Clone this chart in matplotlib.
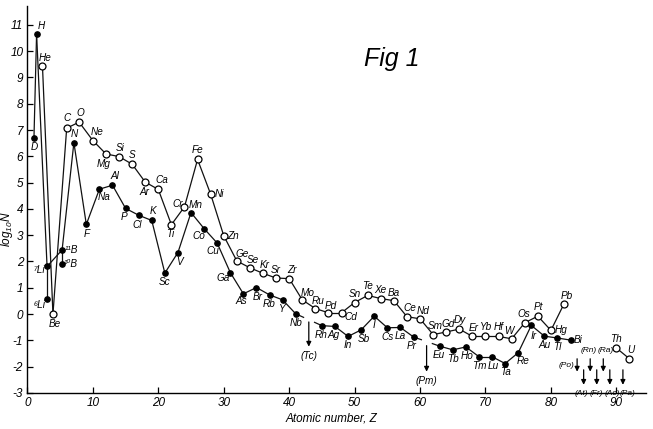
import numpy as np
import matplotlib.pyplot as plt

# Datos (log10 N frente a Z)

# Serie de Z impar (circulos negros), incluye D, 7Li y 11B
impar_simbolos = ['D', 'H', '⁷Li', '¹¹B', 'N', 'F', 'Na', 'Al', 'P', 'Cl', 'K', 'Sc', 'V', 'Mn',
                  'Co', 'Cu', 'Ga', 'As', 'Br', 'Rb', 'Y', 'Nb', 'Rh', 'Ag', 'In', 'Sb', 'I',
                  'Cs', 'La', 'Pr', 'Eu', 'Tb', 'Ho', 'Tm', 'Lu', 'Ta', 'Re', 'Ir', 'Au', 'Tl', 'Bi']
impar_z = [1.0, 1.4, 3, 5.3, 7.1, 9, 11, 13, 15, 17, 19, 21, 23, 25,
           27, 29, 31, 33, 35, 37, 39, 41, 45, 47, 49, 51, 53,
           55, 57, 59, 63, 65, 67, 69, 71, 73, 75, 77, 79, 81, 83]
impar_logn = [6.71, 10.65, 1.81, 2.44, 6.52, 3.41, 4.75, 4.90, 4.02, 3.76, 3.56, 1.56, 2.34, 3.86,
              3.25, 2.70, 1.58, 0.77, 1.01, 0.73, 0.54, 0.01, -0.44, -0.47, -0.85, -0.60, -0.08,
              -0.52, -0.51, -0.87, -1.22, -1.36, -1.25, -1.62, -1.62, -1.88, -1.47, -0.43, -0.84, -0.91, -0.99]

# Serie de Z par (circulos abiertos)
par_simbolos = ['He', 'Be', 'C', 'O', 'Ne', 'Mg', 'Si', 'S', 'Ar', 'Ca', 'Ti', 'Cr', 'Fe', 'Ni',
                'Zn', 'Ge', 'Se', 'Kr', 'Sr', 'Zr', 'Mo', 'Ru', 'Pd', 'Cd', 'Sn', 'Te', 'Xe',
                'Ba', 'Ce', 'Nd', 'Sm', 'Gd', 'Dy', 'Er', 'Yb', 'Hf', 'W', 'Os', 'Pt', 'Hg', 'Pb']
par_z = [2.3, 3.9, 6.0, 7.9, 10, 12, 14, 16, 18, 20, 22, 24, 26, 28,
         30, 32, 34, 36, 38, 40, 42, 44, 46, 48, 50, 52, 54,
         56, 58, 60, 62, 64, 66, 68, 70, 72, 74, 76, 78, 80, 82]
par_logn = [9.43, 0.0, 7.07, 7.30, 6.60, 6.09, 5.99, 5.70, 5.02, 4.74, 3.40, 4.08, 5.88, 4.56,
            2.98, 2.02, 1.76, 1.55, 1.37, 1.35, 0.54, 0.21, 0.05, 0.05, 0.44, 0.71, 0.59,
            0.51, -0.10, -0.18, -0.78, -0.68, -0.57, -0.85, -0.85, -0.85, -0.94, -0.33, -0.08, -0.62, 0.39]

# Isotopos ligeros sueltos
iso_simbolos = ['⁶Li', '¹⁰B']
iso_z = [3, 5.3]
iso_logn = [0.58, 1.91]

# Th y U
act_simbolos = ['Th', 'U']
act_z = [90, 92]
act_logn = [-1.29, -1.70]

# Elementos sin isotopos estables (flechas)
flecha_etiquetas = ['(Tc)', '(Pm)', '(Po)', '(At)', '(Rn)', '(Fr)', '(Ra)', '(Ac)', '(Pa)']
flecha_z = [43, 61, 84, 85, 86, 87, 88, 89, 91]
flecha_arriba = [-0.30, -1.20, -1.70, -2.12, -1.70, -2.12, -1.70, -2.12, -2.12]
flecha_abajo = [-1.24, -2.19, -2.19, -2.69, -2.19, -2.69, -2.19, -2.69, -2.69]
flecha_lado = ['abajo', 'abajo', 'izq', 'abajo', 'arriba', 'abajo', 'arriba', 'abajo', 'abajo']
flecha_dx = [0, 0, -3, -2, -2, 0, 2, 2, 5]

# Desplazamiento de cada etiqueta (pixeles, x derecha, y arriba)
desp = {
    'D': (0, -9), 'H': (5, 8), '⁷Li': (-8, -4), '¹¹B': (9, 0), 'N': (0, 9), 'F': (0, -10),
    'Na': (5, -8), 'Al': (2, 9), 'P': (-2, -9), 'Cl': (-1, -10), 'K': (1, 9), 'Sc': (0, -9),
    'V': (2, -9), 'Mn': (5, 8), 'Co': (-5, -7), 'Cu': (-4, -8), 'Ga': (-7, -5), 'As': (-2, -7),
    'Br': (1, -9), 'Rb': (0, -9), 'Y': (0, -9), 'Nb': (0, -9), 'Rh': (-1, -9), 'Ag': (-1, -9),
    'In': (0, -9), 'Sb': (3, -9), 'I': (0, -9), 'Cs': (0, -9), 'La': (0, -9), 'Pr': (-2, -9),
    'Eu': (-1, -9), 'Tb': (0, -9), 'Ho': (1, -9), 'Tm': (0, -9), 'Lu': (1, -9), 'Ta': (0, -8),
    'Re': (5, -8), 'Ir': (2, -11), 'Au': (0, -9), 'Tl': (0, -9), 'Bi': (8, 0),
    '⁶Li': (-7, -6), '¹⁰B': (9, 0),
    'He': (3, 8), 'Be': (2, -10), 'C': (0, 10), 'O': (1, 9), 'Ne': (4, 9), 'Mg': (-2, -10),
    'Si': (1, 9), 'S': (0, 9), 'Ar': (-1, -10), 'Ca': (4, 9), 'Ti': (-1, -9), 'Cr': (-7, 3),
    'Fe': (0, 9), 'Ni': (9, 0), 'Zn': (9, 0), 'Ge': (5, 7), 'Se': (3, 8), 'Kr': (2, 8),
    'Sr': (0, 8), 'Zr': (3, 9), 'Mo': (5, 7), 'Ru': (3, 8), 'Pd': (2, 7), 'Cd': (9, -4),
    'Sn': (0, 9), 'Te': (0, 9), 'Xe': (0, 9), 'Ba': (0, 8), 'Ce': (3, 9), 'Nd': (3, 8),
    'Sm': (2, 9), 'Gd': (2, 8), 'Dy': (0, 9), 'Er': (1, 8), 'Yb': (1, 9), 'Hf': (0, 9),
    'W': (-3, 8), 'Os': (-1, 9), 'Pt': (1, 9), 'Hg': (10, 0), 'Pb': (3, 8),
    'Th': (0, 9), 'U': (1, 9),
}

plt.rcParams['font.family'] = ['Liberation Sans', 'DejaVu Sans']
plt.rcParams['font.style'] = 'italic'
plt.rcParams['axes.unicode_minus'] = False
plt.rcParams['mathtext.fontset'] = 'custom'
plt.rcParams['mathtext.rm'] = 'Liberation Sans:italic'
plt.rcParams['mathtext.it'] = 'Liberation Sans:italic'

fuente_etq = ['Liberation Sans Narrow', 'Liberation Sans', 'DejaVu Sans']

fig = plt.figure(figsize=(6.53, 4.29), dpi=100)
ax = fig.add_axes([0.042, 0.084, 0.947, 0.901])

lw = 0.9
col = '#111111'


def dibujar_serie(z, v):
    # une puntos consecutivos; si falta un elemento se deja un hueco
    for i in range(len(z) - 1):
        x0, x1, y0, y1 = z[i], z[i + 1], v[i], v[i + 1]
        if x1 - x0 > 3:
            for a, b in [(0, 0.3), (0.72, 1)]:
                ax.plot([x0 + a * (x1 - x0), x0 + b * (x1 - x0)],
                        [y0 + a * (y1 - y0), y0 + b * (y1 - y0)], '-', color=col, lw=lw)
        else:
            ax.plot([x0, x1], [y0, y1], '-', color=col, lw=lw)


dibujar_serie(impar_z, impar_logn)
dibujar_serie(par_z, par_logn)
ax.plot(act_z, act_logn, '-', color=col, lw=lw)
# lineas verticales entre isotopos
for zi, vi in zip(iso_z, iso_logn):
    j = impar_z.index(zi)
    ax.plot([zi, zi], [impar_logn[j], vi], '-', color=col, lw=lw)

ax.plot(impar_z, impar_logn, 'o', ms=3.8, color='black', zorder=4)
ax.plot(iso_z, iso_logn, 'o', ms=3.8, color='black', zorder=4)
ax.plot(par_z, par_logn, 'o', ms=5, mfc='white', mec='black', mew=0.9, zorder=4)
ax.plot(act_z, act_logn, 'o', ms=5, mfc='white', mec='black', mew=0.9, zorder=4)

# etiquetas de elementos
for sims, zs, vs in [(impar_simbolos, impar_z, impar_logn), (par_simbolos, par_z, par_logn),
                     (iso_simbolos, iso_z, iso_logn), (act_simbolos, act_z, act_logn)]:
    for s, x, y in zip(sims, zs, vs):
        dx, dy = desp[s]
        ax.annotate(s, (x, y), xytext=(dx, dy), textcoords='offset pixels',
                    ha='center', va='center', fontsize=7.2, family=fuente_etq, style='italic')

# flechas
for etq, x, y0, y1, lado, ddx in zip(flecha_etiquetas, flecha_z, flecha_arriba, flecha_abajo,
                                     flecha_lado, flecha_dx):
    ax.annotate('', xy=(x, y1), xytext=(x, y0),
                arrowprops=dict(arrowstyle='-|>', color='black', lw=0.9,
                                mutation_scale=7, shrinkA=0, shrinkB=0))
    fs = 7.2 if x < 80 else 6.0
    if lado == 'abajo':
        ax.annotate(etq, (x, y1), xytext=(ddx, -9), textcoords='offset pixels',
                    ha='center', va='center', fontsize=fs, family=fuente_etq, style='italic')
    elif lado == 'arriba':
        ax.annotate(etq, (x, y0), xytext=(ddx, 8), textcoords='offset pixels',
                    ha='center', va='center', fontsize=fs, family=fuente_etq, style='italic')
    else:
        ax.annotate(etq, (x, (y0 + y1) / 2), xytext=(ddx, 0), textcoords='offset pixels',
                    ha='right', va='center', fontsize=fs, family=fuente_etq, style='italic')

ax.set_xlim(0, 94.5)
ax.set_ylim(-3, 11.7)
ax.set_xticks(range(0, 91, 10))
ax.set_yticks(range(-3, 12))
ax.tick_params(direction='in', length=4, width=0.9, labelsize=8.5, pad=3)
for lab in ax.get_xticklabels() + ax.get_yticklabels():
    lab.set_fontstyle('italic')
for lado in ['top', 'right']:
    ax.spines[lado].set_visible(False)
for lado in ['left', 'bottom']:
    ax.spines[lado].set_linewidth(1.0)

fig.text(0.507, 0.025, 'Atomic number, Z', ha='center', va='center', fontsize=8.5, style='italic')
fig.text(0.011, 0.465, r'$\mathrm{log}_{10}\mathrm{N}$', ha='center', va='center', rotation=90,
         fontsize=8.5)
fig.text(0.6, 0.862, 'Fig 1', ha='center', va='center', fontsize=18, style='italic')

fig.savefig('out.png', dpi=100)
